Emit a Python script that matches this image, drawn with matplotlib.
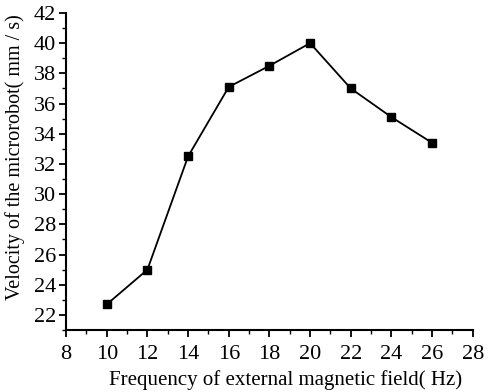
import matplotlib
matplotlib.use("Agg")
import matplotlib.pyplot as plt
from matplotlib.ticker import MultipleLocator

freq = [10, 12, 14, 16, 18, 20, 22, 24, 26]
velocity = [22.7, 25.0, 32.5, 37.1, 38.5, 40.0, 37.0, 35.1, 33.4]
xticks = [8, 10, 12, 14, 16, 18, 20, 22, 24, 26, 28]
yticks = [22, 24, 26, 28, 30, 32, 34, 36, 38, 40, 42]

plt.rcParams['font.family'] = ['Liberation Serif', 'DejaVu Serif']

fig = plt.figure(figsize=(4.93, 3.92), dpi=100)
ax = fig.add_axes([0.134, 0.158, 0.825, 0.809])
ax.plot(freq, velocity, color='black', lw=1.3, marker='s', ms=6, mfc='black', mec='black')
ax.set_xlim(8, 28)
ax.set_ylim(21, 42)
ax.set_xticks(xticks)
ax.set_yticks(yticks)
ax.xaxis.set_minor_locator(MultipleLocator(1))
ax.yaxis.set_minor_locator(MultipleLocator(1))
for s in ['top', 'right']:
    ax.spines[s].set_visible(False)
for s in ['left', 'bottom']:
    ax.spines[s].set_linewidth(1.5)
ax.tick_params(which='major', direction='out', length=5, width=1.3, labelsize=16)
ax.tick_params(axis='x', which='major', pad=6)
ax.tick_params(axis='y', which='major', pad=2)
ax.tick_params(which='minor', direction='out', length=3, width=1.0)
ax.set_xlabel('Frequency of external magnetic field( Hz)', fontsize=15)
ax.set_ylabel('Velocity of the microrobot( mm / s)', fontsize=14.5)
ax.xaxis.set_label_coords(0.54, -0.125)
ax.yaxis.set_label_coords(-0.102, 0.545)
fig.savefig('out.png', dpi=100)
